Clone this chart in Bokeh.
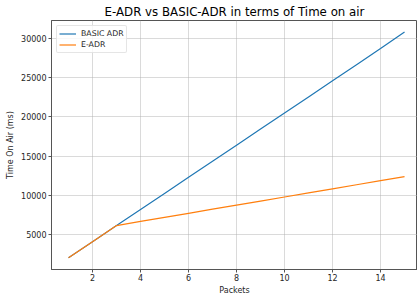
from bokeh.plotting import figure
from bokeh.embed import file_html
from bokeh.resources import INLINE
from bokeh.models import Range1d, FixedTicker, Legend, LegendItem

packets = [1, 2, 3, 4, 5, 6, 7, 8, 9, 10, 11, 12, 13, 14, 15]
basic_adr = [2050, 4100, 6150, 8200, 10250, 12300, 14350, 16400, 18450,
             20500, 22550, 24600, 26650, 28700, 30800]
e_adr = [2050, 4100, 6150, 6680, 7200, 7720, 8240, 8760, 9280, 9800,
         10320, 10840, 11360, 11880, 12380]
x_ticks = [2, 4, 6, 8, 10, 12, 14]
y_ticks = [5000, 10000, 15000, 20000, 25000, 30000]

FONT = "DejaVu Sans"
TXT = "#262626"

p = figure(width=417, height=297, output_backend="svg", toolbar_location=None,
           x_range=Range1d(0.29, 15.54), y_range=Range1d(560, 32280),
           min_border_left=51, min_border_right=0, min_border_top=4, min_border_bottom=26)

p.title.text = "E-ADR vs BASIC-ADR in terms of Time on air"
p.title.text_font = FONT
p.title.text_font_size = "11.8px"
p.title.text_font_style = "normal"
p.title.align = "center"
p.title.text_color = "#000000"
p.title.standoff = 4

l1 = p.line(packets, basic_adr, line_color="#1f77b4", line_width=1.2)
l2 = p.line(packets, e_adr, line_color="#ff7f0e", line_width=1.2)

legend = Legend(items=[LegendItem(label="BASIC ADR", renderers=[l1]),
                       LegendItem(label="E-ADR", renderers=[l2])],
                location="top_left")
legend.label_text_font = FONT
legend.label_text_font_size = "7.8px"
legend.label_text_color = TXT
legend.glyph_width = 17
legend.glyph_height = 11
legend.label_height = 11
legend.label_width = 10
legend.label_standoff = 5
legend.spacing = 0
legend.padding = 2
legend.margin = 5
legend.border_line_color = "#cccccc"
legend.border_radius = 2
legend.background_fill_alpha = 0.8
p.add_layout(legend)

for ax in (p.xaxis, p.yaxis):
    ax.axis_label_text_font = FONT
    ax.axis_label_text_font_size = "8px"
    ax.axis_label_text_font_style = "normal"
    ax.axis_label_text_color = TXT
    ax.major_label_text_font = FONT
    ax.major_label_text_font_size = "8px"
    ax.major_label_text_color = TXT
    ax.axis_line_color = "#555555"
    ax.major_tick_line_color = "#555555"
    ax.major_tick_out = 3
    ax.major_tick_in = 0
    ax.minor_tick_line_color = None
    ax.major_label_standoff = 2
    ax.axis_label_standoff = 3

p.xaxis.major_label_standoff = 1
p.xaxis.axis_label_standoff = 2

p.xaxis.axis_label = "Packets"
p.yaxis.axis_label = "Time On Air (ms)"
p.xaxis.ticker = FixedTicker(ticks=x_ticks)
p.yaxis.ticker = FixedTicker(ticks=y_ticks)

p.xgrid.ticker = FixedTicker(ticks=x_ticks)
p.ygrid.ticker = FixedTicker(ticks=y_ticks)
p.grid.grid_line_color = "#b0b0b0"
p.grid.grid_line_alpha = 0.6
p.grid.grid_line_width = 0.8

p.outline_line_color = "#555555"
p.outline_line_width = 1
p.background_fill_color = "white"
p.border_fill_color = "white"

open("out.html", "w").write(file_html(p, INLINE))
